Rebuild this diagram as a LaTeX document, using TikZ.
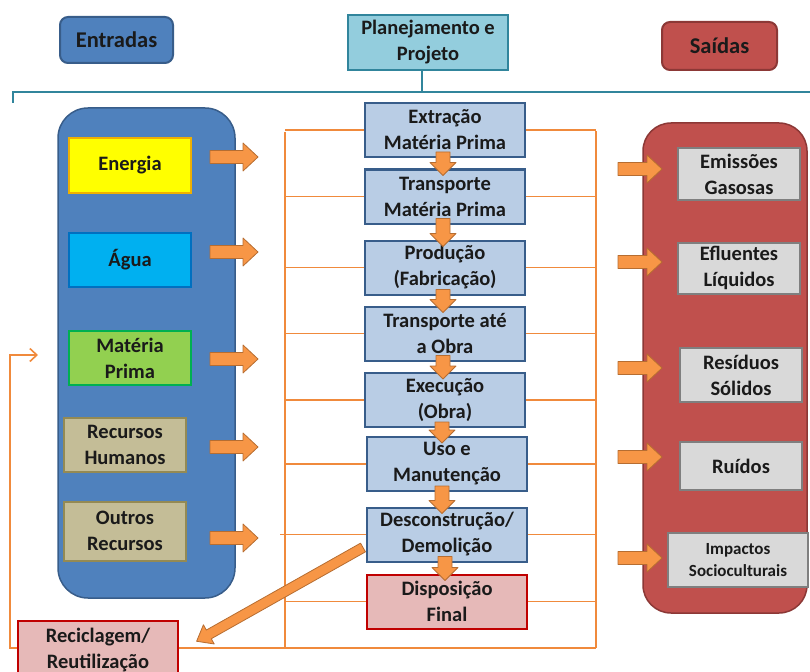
\documentclass[tikz,border=0pt]{standalone}
\usepackage{fontspec}
\setmainfont{Carlito}
\usetikzlibrary{arrows.meta,calc}
\definecolor{bluebox}{HTML}{4F81BD}
\definecolor{bluedraw}{HTML}{385D8A}
\definecolor{redbox}{HTML}{C0504D}
\definecolor{reddraw}{HTML}{8C3836}
\definecolor{planfill}{HTML}{93CDDD}
\definecolor{plandraw}{HTML}{31859C}
\definecolor{procfill}{HTML}{B9CDE5}
\definecolor{procdraw}{HTML}{385D8A}
\definecolor{pinkfill}{HTML}{E6B9B8}
\definecolor{pinkdraw}{HTML}{C00000}
\definecolor{grayfill}{HTML}{D9D9D9}
\definecolor{graydraw}{HTML}{7F7F7F}
\definecolor{tanfill}{HTML}{C4BD97}
\definecolor{tandraw}{HTML}{948A54}
\definecolor{yelfill}{HTML}{FFFF00}
\definecolor{yeldraw}{HTML}{F0B000}
\definecolor{aqfill}{HTML}{00B0F0}
\definecolor{aqdraw}{HTML}{0070C0}
\definecolor{grfill}{HTML}{92D050}
\definecolor{grdraw}{HTML}{00B050}
\definecolor{orfill}{HTML}{F79646}
\definecolor{ordraw}{HTML}{B66D31}
\definecolor{orline}{HTML}{F08A3C}
\definecolor{txt}{HTML}{1A1A1A}
\tikzset{
  lbl/.style={draw, line width=2pt, inner sep=0pt, align=center, text=txt,
    font=\bfseries\fontsize{20.5}{26}\selectfont},
  proc/.style={lbl, fill=procfill, draw=procdraw, minimum width=160pt, minimum height=54pt},
  inbox/.style={lbl, minimum width=122pt, minimum height=54pt},
  outbox/.style={lbl, fill=grayfill, draw=graydraw, minimum width=122pt, minimum height=51pt},
  smalltext/.style={font=\bfseries\fontsize{17}{22}\selectfont},
  head/.style={lbl, rounded corners=8pt, font=\bfseries\fontsize{22.5}{26}\selectfont},
  thin/.style={draw=orline, line width=1.6pt},
  barrowstyle/.style={fill=orfill, draw=ordraw, line width=0.8pt, line join=round},
  pics/barr/.style n args={4}{code={
    \path[barrowstyle] (0,-#2) -- (#1-#4,-#2) -- (#1-#4,-#3) -- (#1,0)
      -- (#1-#4,#3) -- (#1-#4,#2) -- (0,#2) -- cycle;}}
}
\begin{document}
\begin{tikzpicture}[x=1pt,y=-1pt]
\useasboundingbox (0,0) rectangle (810,671);
\clip (0,0) rectangle (810,671);

% headers
\node[head, fill=bluebox, draw=bluedraw, minimum width=113pt, minimum height=46pt] (ent) at (116.5,40) {Entradas};
\node[lbl, fill=planfill, draw=plandraw, minimum width=160pt, minimum height=55pt] (plan) at (428,42.5) {Planejamento e\\Projeto};
\node[head, fill=redbox, draw=reddraw, minimum width=115pt, minimum height=48pt] (sai) at (719.5,46) {Saídas};

% brace line
\coordinate (brL) at (13,103);
\coordinate (brR) at (812,92);
\draw[plandraw, line width=2pt] (brL) -- (13,92) -- (brR);
\draw[plandraw, line width=2pt] (422,92) -- (plan.south -| 422,0);

% big containers
\node[draw=bluedraw, fill=bluebox, line width=1.5pt, rounded corners=30pt, minimum width=177pt, minimum height=490pt, inner sep=0pt] (inbig) at (146.5,353) {};
\node[draw=reddraw, fill=redbox, line width=1.5pt, rounded corners=28pt, minimum width=164pt, minimum height=490pt, inner sep=0pt] (outbig) at (725,368) {};

% input boxes
\node[inbox, fill=yelfill, draw=yeldraw] (en) at (130,165.5) {Energia};
\node[inbox, fill=aqfill, draw=aqdraw] (ag) at (130,259.5) {Água};
\node[inbox, fill=grfill, draw=grdraw] (mp) at (130,358) {Matéria\\Prima};
\node[inbox, fill=tanfill, draw=tandraw] (rh) at (125,445) {Recursos\\Humanos};
\node[inbox, fill=tanfill, draw=tandraw, minimum height=59pt] (or) at (125,531) {Outros\\Recursos};

% output boxes
\node[outbox] (em) at (739,174) {Emissões\\Gasosas};
\node[outbox] (ef) at (739,268) {Efluentes\\Líquidos};
\node[outbox, minimum height=54pt] (rs) at (741,375) {Resíduos\\Sólidos};
\node[outbox, minimum height=48pt] (ru) at (741,466) {Ruídos};
\node[outbox, smalltext, minimum width=140pt, minimum height=54pt] (im) at (738,560) {Impactos\\Socioculturais};

% thin orange frame
\coordinate (lvT) at (285,132);
\coordinate (lvB) at (285,648);
\coordinate (rvT) at (596,131);
\coordinate (rvB) at (596,648);
\draw[thin] (lvT) -- (lvB);
\draw[thin] (rvT) -- (rvB);

% process boxes
\node[proc] (p1) at (445,130) {Extração\\Matéria Prima};
\node[proc] (p2) at (445,196.5) {Transporte\\Matéria Prima};
\node[proc] (p3) at (445,267.5) {Produção\\(Fabricação)};
\node[proc] (p4) at (445,333.5) {Transporte até\\a Obra};
\node[proc] (p5) at (445,400) {Execução\\(Obra)};
\node[proc] (p6) at (447,464) {Uso e\\Manutenção};
\node[proc] (p7) at (447,534.5) {Desconstrução/\\Demolição};
\node[proc, fill=pinkfill, draw=pinkdraw] (p8) at (447,601.5) {Disposição\\Final};

% recycling box
\node[lbl, fill=pinkfill, draw=pinkdraw, minimum width=160pt, minimum height=58pt] (rec) at (98,650) {Reciclagem/\\Reutilização};

% horizontal thin lines
\foreach \p in {p1,p2,p3,p4,p5,p6,p8}{
  \draw[thin] (\p.west) -- (\p.west -| lvT);
  \draw[thin] (\p.east) -- (\p.east -| rvT);
}
\draw[thin] (p7.west) -- ($(p7.west -| lvT)+(-5,0)$);
\draw[thin] (p7.east) -- (p7.east -| rvT);
\draw[thin] (rec.east |- lvB) -- (rvB);

% feedback line
\coordinate (fbEnd) at (38,355);
\draw[thin, -{Straight Barb[length=7pt,width=13pt,line width=1.6pt]}] (rec.west |- lvB) -- (10,648) -- (10,355) -- (fbEnd);

% block arrows inputs
\foreach \yy in {157,252,359,447,538}{
  \pic at (210,\yy) {barr={48}{6.5}{14}{15}};
}
% block arrows outputs
\foreach \yy in {169,262,368,457,558}{
  \pic at (618,\yy) {barr={44}{6.5}{14}{15}};
}
% down arrows between process boxes
\foreach \a/\b/\dx in {p1/p2/-2,p2/p3/-2,p3/p4/-2,p4/p5/-2,p5/p6/-3,p6/p7/-5,p7/p8/-2}{
  \path let \p1=(\a.south), \p2=(\b.north) in
    pic[rotate=-90] at ($(\a.south)+(\dx,-6)$) {barr={\y1-\y2+13}{7}{13}{13}};
}
% diagonal arrow to recycling
\pic[rotate=209.4] at ($(p7.west)+(-3,13)$) {barr={191}{5}{11}{14}};
\end{tikzpicture}
\end{document}
